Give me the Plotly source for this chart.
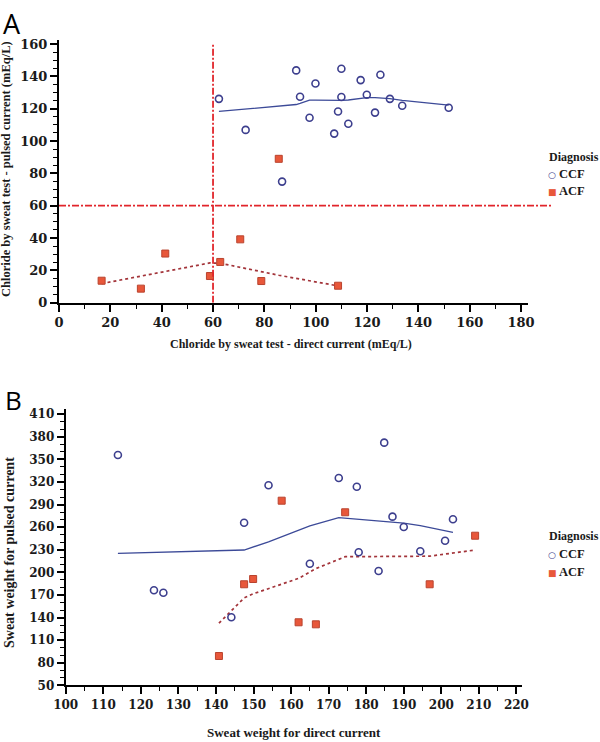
import plotly.graph_objects as go

W, H = 600, 742

# ---------------- Panel A data ----------------
a_ccf_x = [62.3, 72.7, 86.9, 92.4, 93.9, 97.6, 99.9, 107.2, 108.7, 110.0, 110.0, 112.7,
           117.5, 119.9, 123.1, 125.2, 128.9, 133.7, 151.8]
a_ccf_y = [126.1, 106.9, 74.9, 143.7, 127.4, 114.4, 135.6, 104.6, 118.3, 144.7, 127.2, 110.7,
           137.7, 128.6, 117.6, 141.0, 126.1, 121.8, 120.6]
a_ccf_fit_x = [62.3, 72.7, 86.9, 92.4, 93.9, 97.6, 99.9, 107.2, 108.7, 110.0, 112.7,
               117.5, 119.9, 123.1, 125.2, 128.9, 133.7, 151.8]
a_ccf_fit_y = [118.3, 119.9, 121.8, 122.6, 123.3, 125.3, 125.3, 125.0, 125.0, 125.1, 125.4,
               126.3, 126.9, 126.8, 126.6, 126.2, 125.1, 122.2]

a_acf_x = [16.6, 31.9, 41.4, 58.8, 62.8, 70.6, 78.8, 85.6, 108.7]
a_acf_y = [13.6, 8.7, 30.4, 16.5, 25.2, 39.2, 13.4, 89.0, 10.5]
a_acf_fit_x = [16.6, 31.9, 41.4, 58.8, 62.8, 70.6, 78.8, 85.6, 108.7]
a_acf_fit_y = [11.8, 16.3, 19.2, 24.6, 24.4, 22.0, 19.3, 17.0, 10.4]

a_cutoff_x = 60
a_cutoff_y = 60

# ---------------- Panel B data ----------------
b_ccf_x = [113.9, 123.5, 126.0, 144.1, 147.5, 154.0, 165.0, 172.7, 177.5, 178.0, 183.3,
           184.8, 187.0, 190.0, 194.4, 201.0, 203.1]
b_ccf_y = [355.9, 176.2, 173.0, 140.3, 266.0, 315.7, 211.5, 325.4, 313.8, 226.7, 201.8,
           372.3, 274.0, 260.3, 228.0, 242.0, 270.5]
b_ccf_fit_x = [113.9, 123.5, 126.0, 144.1, 147.5, 154.0, 165.0, 172.7, 177.5, 178.0, 183.3,
               184.8, 187.0, 190.0, 194.4, 201.0, 203.1]
b_ccf_fit_y = [225.3, 226.6, 227.0, 229.0, 229.7, 240.5, 261.6, 272.7, 270.9, 270.7, 268.6,
               268.0, 267.0, 265.3, 262.0, 255.5, 253.2]

b_acf_x = [140.8, 147.5, 149.9, 157.5, 162.0, 166.6, 174.4, 196.9, 209.0]
b_acf_y = [88.9, 184.2, 191.2, 295.2, 133.7, 131.0, 279.8, 184.2, 248.7]
b_acf_fit_x = [140.8, 147.5, 149.9, 157.5, 162.0, 166.6, 174.4, 196.9, 209.0]
b_acf_fit_y = [132.5, 166.0, 171.5, 184.5, 192.0, 205.0, 220.8, 221.5, 229.7]

legend_title = "Diagnosis"
group_names = ["CCF", "ACF"]
a_xtitle = "Chloride by sweat test - direct current (mEq/L)"
a_ytitle = "Chloride by sweat test - pulsed current (mEq/L)"
b_xtitle = "Sweat weight for direct current"
b_ytitle = "Sweat weight for pulsed current"

# ---------------- styling ----------------
BLUE = "#3d3f8e"
BLUE_LINE = "#3c4a98"
ORANGE = "#e8573a"
ORANGE_EDGE = "#b9432e"
FIT_RED = "#a3343a"
REF_RED = "#e1252b"
SERIF = "Liberation Serif"
TICK_SERIF = "DejaVu Serif"
TXT = "#1a1a1a"

A_XRANGE = [0, 182.5]
A_YRANGE = [0, 162.5]
A_XDOM = [59 / W, 527.5 / W]
A_YDOM = [(H - 302.7) / H, (H - 40) / H]
B_XRANGE = [100, 221.4]
B_YRANGE = [50, 417]
B_XDOM = [65.7 / W, 521.7 / W]
B_YDOM = [(H - 685.3) / H, (H - 409) / H]

fig = go.Figure()


def add_panel(xa, ya, ccf_x, ccf_y, cfx, cfy, acf_x, acf_y, afx, afy):
    fig.add_trace(go.Scatter(x=cfx, y=cfy, mode="lines", xaxis=xa, yaxis=ya,
                             line=dict(color=BLUE_LINE, width=1.3), showlegend=False))
    fig.add_trace(go.Scatter(x=afx, y=afy, mode="lines", xaxis=xa, yaxis=ya,
                             line=dict(color=FIT_RED, width=1.7, dash="dot"), showlegend=False))
    fig.add_trace(go.Scatter(x=ccf_x, y=ccf_y, mode="markers", xaxis=xa, yaxis=ya,
                             marker=dict(symbol="circle-open", size=7, color=BLUE,
                                         line=dict(width=1.6)),
                             name="CCF", showlegend=False))
    fig.add_trace(go.Scatter(x=acf_x, y=acf_y, mode="markers", xaxis=xa, yaxis=ya,
                             marker=dict(symbol="square", size=7, color=ORANGE,
                                         line=dict(width=1, color=ORANGE_EDGE)),
                             name="ACF", showlegend=False))


add_panel("x", "y", a_ccf_x, a_ccf_y, a_ccf_fit_x, a_ccf_fit_y,
          a_acf_x, a_acf_y, a_acf_fit_x, a_acf_fit_y)
add_panel("x2", "y2", b_ccf_x, b_ccf_y, b_ccf_fit_x, b_ccf_fit_y,
          b_acf_x, b_acf_y, b_acf_fit_x, b_acf_fit_y)


def axis(dom, rng, dtick, minor_dtick, anchor, tfont, tick0):
    return dict(domain=dom, range=rng, anchor=anchor, dtick=dtick, tick0=tick0,
                automargin=False,
                showline=True, linecolor="black", linewidth=2,
                ticks="outside", ticklen=7, tickwidth=1.5, tickcolor="black",
                showgrid=False, zeroline=False,
                tickprefix="<b>", ticksuffix="</b>",
                tickfont=dict(family=TICK_SERIF, size=tfont, color=TXT, weight="bold"),
                minor=dict(dtick=minor_dtick, tick0=tick0, ticks="outside", ticklen=4,
                           tickwidth=1.2, tickcolor="black", showgrid=False))


fig.update_layout(
    width=W, height=H,
    margin=dict(l=0, r=0, t=0, b=0),
    paper_bgcolor="white", plot_bgcolor="white",
    font=dict(family=SERIF, color=TXT),
    showlegend=False,
    xaxis=axis(A_XDOM, A_XRANGE, 20, 10, "y", 13, 0),
    yaxis=axis(A_YDOM, A_YRANGE, 20, 5, "x", 13, 0),
    xaxis2=axis(B_XDOM, B_XRANGE, 10, 5, "y2", 12, 100),
    yaxis2=axis(B_YDOM, B_YRANGE, 30, 10, "x2", 12, 50),
)


def ann(text, px, py, size, xanchor="center", angle=0, family=SERIF, bold=True, color=TXT,
        yanchor="middle"):
    fig.add_annotation(text=text, xref="paper", yref="paper", x=px / W, y=1 - py / H,
                       xanchor=xanchor, yanchor=yanchor, textangle=angle, showarrow=False,
                       font=dict(family=family, size=size, color=color,
                                 weight="bold" if bold else "normal"))


# axis titles
ann(a_xtitle, 291, 344, 12)
ann(a_ytitle, 6, 169, 12.5, angle=-90)
ann(b_xtitle, 294, 732, 13)
ann(b_ytitle, 9, 553, 14, angle=-90)

# reference cut-off lines (panel A)
hy = A_YDOM[0] + (a_cutoff_y - A_YRANGE[0]) / (A_YRANGE[1] - A_YRANGE[0]) * (A_YDOM[1] - A_YDOM[0])
fig.add_shape(type="line", xref="paper", yref="paper", x0=A_XDOM[0], x1=552 / W, y0=hy, y1=hy,
              line=dict(color=REF_RED, width=1.8, dash="7px,2px,2px,2px"))
fig.add_shape(type="line", xref="x", yref="y", x0=a_cutoff_x, x1=a_cutoff_x, y0=0, y1=160,
              line=dict(color=REF_RED, width=1.8, dash="7px,2px,2px,2px"))

# panel letters
ann("A", 1, 3, 27, xanchor="left", family="Open Sans", bold=False, color="black", yanchor="top")
ann("B", 3, 380, 26, xanchor="left", family="Open Sans", bold=False, color="black", yanchor="top")


# custom legends
def legend(px, py_title, py1, py2):
    ann(legend_title, px, py_title, 12, xanchor="left")
    ann(f"<span style='color:{BLUE};font-family:DejaVu Sans;font-size:9px'>○</span> {group_names[0]}",
        px - 1, py1, 12.5, xanchor="left")
    ann(f"<span style='color:{ORANGE};font-family:DejaVu Sans;font-size:9px'>■</span> {group_names[1]}",
        px - 1, py2, 12.5, xanchor="left")


legend(547, 157, 174, 191)
legend(547, 536, 554, 572)

fig.write_html(
    "out.html",
    config={"displayModeBar": False},
    post_script="document.body.style.margin='0';document.body.style.overflow='hidden';",
)
